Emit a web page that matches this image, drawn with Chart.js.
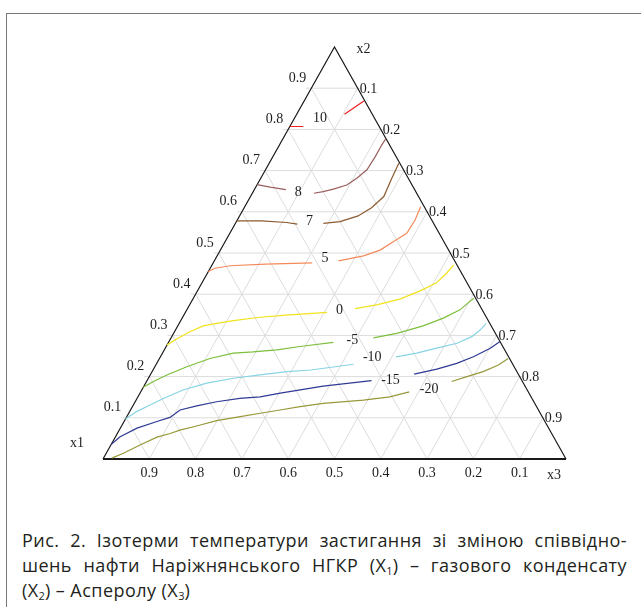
<!DOCTYPE html>
<html>
<head>
<meta charset="utf-8">
<script src="https://cdn.jsdelivr.net/npm/chart.js@4/dist/chart.umd.min.js"></script>
<style>
  body{margin:0;background:#fff;width:641px;height:607px;overflow:hidden;position:relative;}
  #frame{position:absolute;left:6px;top:13px;width:700px;height:700px;border-left:1px solid #777;border-top:1px solid #777;}
  #chart{position:absolute;left:0;top:0;}
  .cap{position:absolute;left:22px;width:605px;font-family:"Open Sans",sans-serif;font-size:18px;line-height:24px;letter-spacing:0.45px;color:#231f20;white-space:nowrap;}
  .just{text-align:justify;text-align-last:justify;white-space:normal;}
  sub{font-size:11px;vertical-align:-3px;line-height:0;letter-spacing:0;}
</style>
</head>
<body>
<div id="frame"></div>
<canvas id="chart" width="641" height="500"></canvas>
<div class="cap just" style="top:528px">Рис. 2. Ізотерми температури застигання зі зміною співвідно-</div>
<div class="cap just" style="top:553px">шень нафти Наріжнянського НГКР (X<sub>1</sub>) – газового конденсату</div>
<div class="cap" style="top:578px">(X<sub>2</sub>) – Асперолу (X<sub>3</sub>)</div>
<script>
// --- isotherm data: [x2, x3] compositions, null = gap for the level label ---
const isoLevels = ['10','8','7','5','0','-5','-10','-15','-20'];
const isoColors = ['#f02020','#9a5e5e','#8b5a30','#f48a5a','#f2e21c','#7cbf3c','#86d4e4','#2e3a94','#98983a'];
const iso10 = [[0.807,0.0],[0.807,0.029],null,[0.837,0.103],[0.869,0.129]];
const iso8 = [[0.666,0.0],[0.660,0.031],[0.654,0.068],null,[0.645,0.133],[0.649,0.151],[0.655,0.170],[0.665,0.194],[0.681,0.207],[0.702,0.219],[0.734,0.221],[0.762,0.221],[0.778,0.222]];
const iso7 = [[0.578,0.0],[0.578,0.054],[0.574,0.109],[0.570,0.135],null,[0.572,0.190],[0.576,0.224],[0.590,0.256],[0.610,0.275],[0.637,0.288],[0.681,0.283],[0.718,0.280]];
const iso5 = [[0.455,0.0],[0.463,0.010],[0.469,0.040],[0.473,0.115],[0.476,0.214],null,[0.481,0.268],[0.493,0.316],[0.507,0.345],[0.533,0.368],[0.548,0.382],[0.580,0.384],[0.612,0.380]];
const iso0 = [[0.277,0.0],[0.289,0.011],[0.309,0.033],[0.323,0.055],[0.329,0.081],[0.336,0.114],[0.344,0.167],[0.349,0.222],[0.356,0.306],null,[0.365,0.362],[0.374,0.404],[0.388,0.447],[0.408,0.481],[0.427,0.506],[0.449,0.516],[0.471,0.522]];
const isoM5 = [[0.174,0.0],[0.188,0.015],[0.204,0.036],[0.224,0.069],[0.244,0.109],[0.257,0.153],[0.260,0.194],[0.265,0.243],[0.273,0.289],[0.283,0.356],null,[0.294,0.437],[0.305,0.482],[0.323,0.530],[0.342,0.564],[0.362,0.590],[0.379,0.599],[0.390,0.606]];
const isoM10 = [[0.097,0.0],[0.115,0.015],[0.131,0.036],[0.147,0.057],[0.168,0.090],[0.184,0.132],[0.196,0.184],[0.204,0.237],[0.212,0.291],[0.216,0.341],[0.230,0.426],null,[0.248,0.509],[0.257,0.549],[0.269,0.586],[0.281,0.624],[0.297,0.648],[0.313,0.658],[0.329,0.663]];
const isoM15 = [[0.036,0.0],[0.054,0.010],[0.075,0.036],[0.091,0.071],[0.101,0.094],[0.119,0.107],[0.129,0.138],[0.139,0.176],[0.147,0.222],[0.151,0.264],[0.160,0.303],[0.168,0.342],[0.177,0.387],[0.190,0.485],null,[0.206,0.569],[0.218,0.612],[0.232,0.648],[0.248,0.676],[0.269,0.702],[0.285,0.715]];
const isoM20 = [[0.002,0.018],[0.014,0.037],[0.034,0.063],[0.053,0.090],[0.062,0.114],[0.070,0.131],[0.080,0.162],[0.093,0.199],[0.103,0.245],[0.111,0.284],[0.119,0.323],[0.127,0.362],[0.135,0.408],[0.143,0.491],[0.151,0.544],[0.163,0.580],null,[0.188,0.659],[0.200,0.686],[0.212,0.715],[0.228,0.740],[0.244,0.753]];
const isoData = [iso10, iso8, iso7, iso5, iso0, isoM5, isoM10, isoM15, isoM20];
// where each level number sits, [x2, x3]
const labelPos = [[0.827,0.055],[0.647,0.098],[0.576,0.158],[0.487,0.236],[0.362,0.330],[0.289,0.394],[0.247,0.458],[0.192,0.525],[0.169,0.620]];
const tickValues = [0.1,0.2,0.3,0.4,0.5,0.6,0.7,0.8,0.9];
const tickLabels = ['0.1','0.2','0.3','0.4','0.5','0.6','0.7','0.8','0.9'];

// ternary (x2, x3) -> plot plane
function toXY(x2, x3){ return {x: x3 + x2/2, y: x2}; }

const datasets = isoData.map((arr,i)=>({
  data: arr.map(p=> p ? toXY(p[0],p[1]) : {x:null,y:null}),
  borderColor: isoColors[i],
  borderWidth: 1.2,
  pointRadius: 0,
  showLine: true,
  spanGaps: false,
  tension: 0
}));

const FONT = '14px "Liberation Serif", "Times New Roman", serif';

const ternaryPlugin = {
  id:'ternary',
  beforeDatasetsDraw(chart){
    const {ctx, scales:{x, y}} = chart;
    const P = (X,Y)=>[x.getPixelForValue(X), y.getPixelForValue(Y)];
    ctx.save();
    ctx.strokeStyle = '#dcdcdc';
    ctx.lineWidth = 1;
    tickValues.forEach(v=>{
      // x2 = const (horizontal)
      let a = P(v/2, v), b = P(1 - v/2, v);
      ctx.beginPath(); ctx.moveTo(a[0]-5, a[1]); ctx.lineTo(b[0]+4, b[1]); ctx.stroke();
      // x3 = const
      a = P(v, 0); b = P(v + (1-v)/2, 1-v);
      ctx.beginPath(); ctx.moveTo(a[0], a[1]); ctx.lineTo(b[0], b[1]); ctx.stroke();
      // x1 = const
      a = P(1-v, 0); b = P((1-v)/2, 1-v);
      ctx.beginPath(); ctx.moveTo(a[0], a[1]); ctx.lineTo(b[0], b[1]); ctx.stroke();
    });
    // triangle
    const A = P(0,0), B = P(1,0), C = P(0.5,1);
    ctx.strokeStyle = '#1a1a1a';
    ctx.lineWidth = 1.2;
    ctx.beginPath(); ctx.moveTo(A[0],A[1]); ctx.lineTo(C[0],C[1]); ctx.lineTo(B[0],B[1]); ctx.stroke();
    ctx.lineWidth = 2;
    ctx.beginPath(); ctx.moveTo(A[0],A[1]); ctx.lineTo(B[0],B[1]); ctx.stroke();
    ctx.restore();
  },
  afterDraw(chart){
    const {ctx, scales:{x, y}} = chart;
    const P = (X,Y)=>[x.getPixelForValue(X), y.getPixelForValue(Y)];
    ctx.save();
    ctx.font = FONT;
    ctx.fillStyle = '#1e1e1e';
    ctx.textBaseline = 'middle';
    tickValues.forEach((v,i)=>{
      // left side: x2
      let e = P(v/2, v);
      ctx.textAlign = 'right';
      ctx.fillText(tickLabels[i], e[0]-5, e[1]-10);
      // right side: x3
      e = P(1 - v/2, v);
      ctx.textAlign = 'left';
      ctx.fillText(tickLabels[tickValues.length-1-i], e[0]+2, e[1]+1);
      // bottom: x1
      e = P(1 - v, 0);
      ctx.textAlign = 'center';
      ctx.fillText(tickLabels[i], e[0], e[1]+14);
    });
    // vertex names
    let t = P(0.5,1);
    ctx.textAlign = 'center';
    ctx.fillText('x2', t[0]+29, t[1]+2);
    t = P(0,0);
    ctx.fillText('x1', t[0]-26, t[1]-16);
    t = P(1,0);
    ctx.fillText('x3', t[0]-12, t[1]+16);
    // level numbers
    labelPos.forEach((p,i)=>{
      const q = toXY(p[0], p[1]);
      ctx.fillText(isoLevels[i], x.getPixelForValue(q.x), y.getPixelForValue(q.y));
    });
    ctx.restore();
  }
};

new Chart(document.getElementById('chart'),{
  type:'scatter',
  data:{ datasets },
  options:{
    responsive:false,
    animation:false,
    events:[],
    layout:{ padding:{ left:103, right:75, top:47, bottom:41 } },
    scales:{
      x:{ type:'linear', min:0, max:1, display:false },
      y:{ type:'linear', min:0, max:1, display:false }
    },
    plugins:{ legend:{ display:false }, tooltip:{ enabled:false } }
  },
  plugins:[ternaryPlugin]
});
</script>
</body>
</html>
